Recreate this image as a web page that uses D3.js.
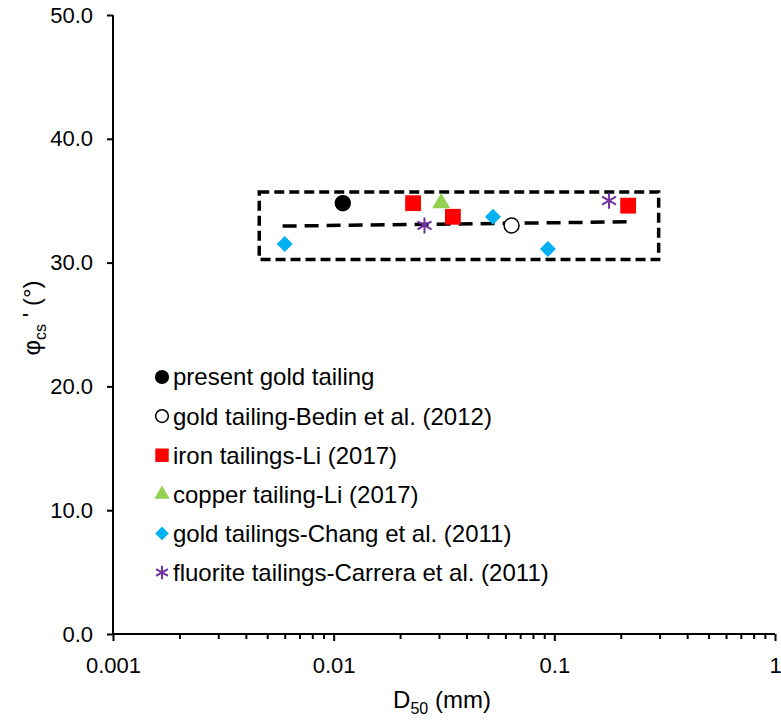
<!DOCTYPE html>
<html>
<head>
<meta charset="utf-8">
<script src="https://cdn.jsdelivr.net/npm/d3@7"></script>
<style>
  body { margin: 0; background: #fff; }
  text { font-family: "Liberation Sans", Arial, sans-serif; fill: #000; }
</style>
</head>
<body>
<div class="chart"></div>
<script>
// series data: D50 (mm) and critical state friction angle (deg)
const presentGold = [{x: 0.011, y: 34.8}];
const bedinGold = [{x: 0.064, y: 33.0}];
const liIron = [{x: 0.0229, y: 34.8}, {x: 0.0347, y: 33.7}, {x: 0.216, y: 34.6}];
const liCopper = [{x: 0.0307, y: 34.8}];
const changGold = [{x: 0.006, y: 31.5}, {x: 0.0527, y: 33.7}, {x: 0.0935, y: 31.1}];
const carreraFluorite = [{x: 0.0258, y: 33.0}, {x: 0.177, y: 35.0}];

// trend line end points and highlighted region
const trendX = [0.00587, 0.231];
const trendY = [32.95, 33.3];
const boxX = [0.0046, 0.297];
const boxY = [30.25, 35.7];

const yTicks = [0, 10, 20, 30, 40, 50];
const xTicks = [0.001, 0.01, 0.1, 1];

const series = [
  {name: "present gold tailing", data: presentGold, shape: "circle", fill: "#000", stroke: "#000"},
  {name: "gold tailing-Bedin et al. (2012)", data: bedinGold, shape: "circle", fill: "#fff", stroke: "#000"},
  {name: "iron tailings-Li (2017)", data: liIron, shape: "square", fill: "#ff0000", stroke: "none"},
  {name: "copper tailing-Li (2017)", data: liCopper, shape: "triangle", fill: "#92d050", stroke: "none"},
  {name: "gold tailings-Chang et al. (2011)", data: changGold, shape: "diamond", fill: "#00b0f0", stroke: "none"},
  {name: "fluorite tailings-Carrera et al. (2011)", data: carreraFluorite, shape: "star", fill: "none", stroke: "#7030a0"}
];

const W = 781, H = 722;
const margin = {top: 15, right: 6, bottom: 88, left: 113};
const width = W - margin.left - margin.right;
const height = H - margin.top - margin.bottom;
const font = "Liberation Sans, Arial, sans-serif";

const svg = d3.select(".chart").append("svg")
  .attr("width", W)
  .attr("height", H);

const g = svg.append("g")
  .attr("transform", `translate(${margin.left},${margin.top})`);

const x = d3.scaleLog().domain([0.001, 1]).range([0, width]);
const y = d3.scaleLinear().domain([0, 50]).range([height, 0]);

// minor ticks for log axis
const minor = [];
for (let dec = 0.001; dec < 1; dec *= 10) {
  for (let k = 2; k <= 9; k++) minor.push(+(dec * k).toPrecision(3));
}

const xMinorAxis = d3.axisBottom(x).tickValues(minor).tickSize(5).tickFormat("");
g.append("g")
  .attr("transform", `translate(0,${height})`)
  .call(xMinorAxis)
  .call(a => a.select(".domain").remove())
  .call(a => a.selectAll(".tick line").attr("stroke", "#000").attr("stroke-width", 2));

const xAxis = d3.axisBottom(x)
  .tickValues(xTicks)
  .tickSize(7)
  .tickPadding(16)
  .tickFormat(d => String(d));

g.append("g")
  .attr("transform", `translate(0,${height})`)
  .call(xAxis)
  .call(a => a.select(".domain").remove())
  .call(a => a.selectAll(".tick line").attr("stroke", "#000").attr("stroke-width", 2))
  .call(a => a.selectAll(".tick text").attr("font-size", 22).attr("font-family", font).attr("fill", "#000"));

const yAxis = d3.axisLeft(y)
  .tickValues(yTicks)
  .tickSize(6)
  .tickPadding(14)
  .tickFormat(d3.format(".1f"));

g.append("g")
  .call(yAxis)
  .call(a => a.select(".domain").remove())
  .call(a => a.selectAll(".tick line").attr("stroke", "#000").attr("stroke-width", 2))
  .call(a => a.selectAll(".tick text").attr("font-size", 22).attr("font-family", font).attr("fill", "#000"));

// axis lines
g.append("line")
  .attr("x1", 0).attr("x2", 0)
  .attr("y1", y(50)).attr("y2", y(0))
  .attr("stroke", "#000").attr("stroke-width", 2);
g.append("line")
  .attr("x1", 0).attr("x2", x(1))
  .attr("y1", y(0)).attr("y2", y(0))
  .attr("stroke", "#000").attr("stroke-width", 2);

// dashed box
g.append("rect")
  .attr("x", x(boxX[0]))
  .attr("y", y(boxY[1]))
  .attr("width", x(boxX[1]) - x(boxX[0]))
  .attr("height", y(boxY[0]) - y(boxY[1]))
  .attr("fill", "none")
  .attr("stroke", "#000")
  .attr("stroke-width", 3.5)
  .attr("stroke-dasharray", "10,5");

// trend line
const line = d3.line()
  .x(d => x(d[0]))
  .y(d => y(d[1]));

g.append("path")
  .datum(d3.zip(trendX, trendY))
  .attr("fill", "none")
  .attr("stroke", "#000")
  .attr("stroke-width", 3.5)
  .attr("stroke-dasharray", "14,8")
  .attr("d", line);

function symbolPath(shape) {
  if (shape === "circle") return d3.symbol(d3.symbolCircle, 175)();
  if (shape === "square") return d3.symbol(d3.symbolSquare, 250)();
  if (shape === "triangle") return d3.symbol(d3.symbolTriangle, 140)();
  if (shape === "diamond") return "M0,-8L8,0L0,8L-8,0Z";
  // asterisk
  return "M0,-8L0,8M-7,-4L7,4M-7,4L7,-4";
}

function drawMarker(sel, s, k = 1) {
  sel.append("path")
    .attr("d", symbolPath(s.shape))
    .attr("transform", `scale(${k})`)
    .attr("fill", s.fill)
    .attr("stroke", s.stroke)
    .attr("stroke-width", (s.shape === "star" ? 2 : 1.5) / k);
}

series.forEach(s => {
  g.selectAll(null)
    .data(s.data)
    .enter()
    .append("g")
    .attr("transform", d => `translate(${x(d.x)},${y(d.y)})`)
    .each(function() { drawMarker(d3.select(this), s); });
});

// legend
const legend = g.append("g")
  .attr("transform", `translate(${162 - margin.left},${377 - margin.top})`);

series.forEach((s, i) => {
  const row = legend.append("g").attr("transform", `translate(0,${i * 39.1})`);
  drawMarker(row, s, 0.85);
  row.append("text")
    .attr("x", 11)
    .attr("y", 0)
    .attr("dy", "0.35em")
    .attr("font-size", 24)
    .text(s.name);
});

// axis titles
const xTitle = svg.append("text")
  .attr("x", 442)
  .attr("y", 708)
  .attr("text-anchor", "middle")
  .attr("font-size", 24);
xTitle.append("tspan").text("D");
xTitle.append("tspan").attr("font-size", 16).attr("dy", 6).text("50");
xTitle.append("tspan").attr("dy", -6).text(" (mm)");

const yTitle = svg.append("text")
  .attr("transform", "translate(40,318) rotate(-90)")
  .attr("text-anchor", "middle")
  .attr("font-size", 24);
yTitle.append("tspan").text("φ");
yTitle.append("tspan").attr("font-size", 16).attr("dy", 6).text("cs");
yTitle.append("tspan").attr("dy", -6).text(" ' (°)");
</script>
</body>
</html>
